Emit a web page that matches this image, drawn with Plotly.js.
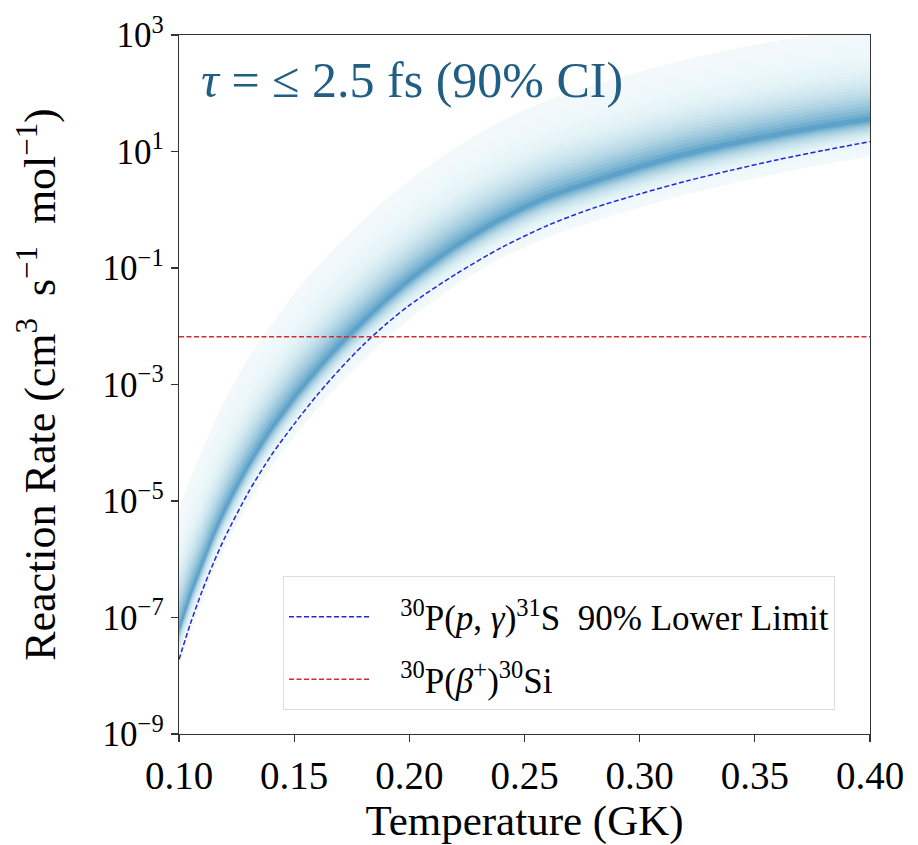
<!DOCTYPE html>
<html>
<head>
<meta charset="utf-8">
<script src="https://cdn.plot.ly/plotly-3.0.1.min.js"></script>
<style>html,body{margin:0;padding:0;background:#fff;}#chart{width:918px;height:845px;}</style>
</head>
<body>
<div id="chart"></div>
<script>
// Temperature grid (GK)
const T = [0.10, 0.105, 0.11, 0.115, 0.12, 0.13, 0.14, 0.15, 0.16, 0.17, 0.18, 0.19, 0.20,
           0.22, 0.24, 0.26, 0.28, 0.30, 0.32, 0.34, 0.36, 0.38, 0.40];
// log10 of the rates
const logLowerLimit = [-7.72, -7.10, -6.55, -6.06, -5.62, -4.86, -4.22, -3.68, -3.18, -2.73, -2.32, -1.96, -1.64,
                       -1.11, -0.65, -0.27, 0.03, 0.27, 0.49, 0.68, 0.86, 1.02, 1.17];
const logMedian     = [-7.22, -6.62, -6.10, -5.60, -5.16, -4.41, -3.78, -3.24, -2.76, -2.32, -1.93, -1.56, -1.22,
                       -0.64, -0.17, 0.20, 0.47, 0.72, 0.94, 1.12, 1.28, 1.42, 1.54];
// outer edges of the shaded probability density
const logUpperEnv   = [-5.17, -4.62, -4.15, -3.68, -3.26, -2.56, -1.98, -1.44, -0.98, -0.56, -0.18, 0.18, 0.50,
                       1.07, 1.53, 1.88, 2.14, 2.37, 2.58, 2.75, 2.90, 3.03, 3.14];
const logLowerEnv   = [-7.84, -7.24, -6.73, -6.23, -5.80, -5.06, -4.43, -3.90, -3.42, -2.98, -2.59, -2.22, -1.88,
                       -1.30, -0.83, -0.47, -0.20, 0.04, 0.26, 0.45, 0.62, 0.78, 0.92];

// 30P beta+ decay rate
const betaT = [0.10, 0.40];
const betaRate = [6.6e-3, 6.6e-3];

// ticks
const xTicks = [0.10, 0.15, 0.20, 0.25, 0.30, 0.35, 0.40];
const xTickText = ["0.10", "0.15", "0.20", "0.25", "0.30", "0.35", "0.40"];
const yTickExp = [-9, -7, -5, -3, -1, 1, 3];

const pw = a => a.map(v => Math.pow(10, v));
const serif = "Liberation Serif";

// shading style: nested bands whose summed opacity gives a smooth density look
const NB = 26;
const dark = f => 0.045 + 0.80 * Math.exp(-Math.pow(f / 0.25, 1.1));
const traces = [];
for (let k = NB; k >= 1; k--) {
  const f = k / NB;
  const fNext = (k + 1) / NB;
  const a = k === NB ? dark(f) : 1 - (1 - dark(f)) / (1 - dark(fNext));
  const lo = logMedian.map((m, i) => m - f * (m - logLowerEnv[i]));
  const up = logMedian.map((m, i) => m + f * (logUpperEnv[i] - m));
  traces.push({x: T, y: pw(lo), mode: 'lines', line: {width: 0, shape: 'spline', smoothing: 0.8},
    showlegend: false, hoverinfo: 'skip'});
  traces.push({x: T, y: pw(up), mode: 'lines', line: {width: 0, shape: 'spline', smoothing: 0.8}, fill: 'tonexty',
    fillcolor: 'rgba(45,132,190,' + a.toFixed(4) + ')', showlegend: false, hoverinfo: 'skip'});
}
traces.push({x: T, y: pw(logLowerLimit), mode: 'lines',
  name: '\u00a0\u00a0\u00a0<sup>30</sup>P(<i>p</i>, <i>γ</i>)<sup>31</sup>S\u00a0\u00a090% Lower Limit',
  line: {color: '#2424d8', width: 1.5, dash: '5px,2.5px', shape: 'spline', smoothing: 0.8}, legendgroup: 'a'});
traces.push({x: betaT, y: betaRate, mode: 'lines',
  name: '\u00a0\u00a0\u00a0<sup>30</sup>P(<i>β</i><sup>+</sup>)<sup>30</sup>Si',
  line: {color: '#d82a2a', width: 1.5, dash: '5px,2.5px'}, legendgroup: 'b'});

const layout = {
  width: 918, height: 845,
  margin: {l: 179, r: 48, t: 35, b: 111},
  paper_bgcolor: '#fff', plot_bgcolor: '#fff',
  font: {family: serif, color: '#000'},
  showlegend: true,
  xaxis: {
    type: 'linear', range: [0.10, 0.40], tickvals: xTicks, ticktext: xTickText,
    showgrid: false, zeroline: false, showline: true, mirror: true, linecolor: '#333', linewidth: 1.3,
    ticks: 'outside', ticklen: 7, tickwidth: 1.2, tickcolor: '#333', automargin: false,
    tickfont: {family: serif, size: 39, color: '#000'},
    title: {text: 'Temperature (GK)', font: {family: serif, size: 43, color: '#000'}, standoff: 14}
  },
  yaxis: {
    type: 'log', range: [-9, 3], tickvals: pw(yTickExp),
    ticktext: yTickExp.map(e => '10<sup>' + (e < 0 ? '\u2212' + (-e) : e) + '</sup>'),
    showgrid: false, zeroline: false, showline: true, mirror: true, linecolor: '#333', linewidth: 1.3,
    ticks: 'outside', ticklen: 7, tickwidth: 1.2, tickcolor: '#333', automargin: false,
    tickfont: {family: serif, size: 35, color: '#000'}
  },
  legend: {
    x: 0.1505, y: 0.226, xanchor: 'left', yanchor: 'top',
    bgcolor: 'rgba(255,255,255,0.85)', bordercolor: '#dddddd', borderwidth: 1,
    font: {family: serif, size: 35, color: '#000'},
    title: {text: ' ', font: {size: 8}},
    itemwidth: 80, traceorder: 'grouped', tracegroupgap: 14
  },
  annotations: [{
    xref: 'paper', yref: 'paper', x: 0.029, y: 0.936, xanchor: 'left', yanchor: 'middle',
    text: '<i>τ</i> = ≤ 2.5 fs (90% CI)', showarrow: false,
    font: {family: serif, size: 50, color: '#215e83'}
  }, {
    xref: 'paper', yref: 'paper', x: -0.205, y: 0.5, xanchor: 'center', yanchor: 'middle',
    textangle: -90, showarrow: false,
    text: 'Reaction Rate (cm<sup>3</sup>\u00a0 s<sup>\u22121</sup>\u00a0 mol<sup>\u22121</sup>)',
    font: {family: serif, size: 44, color: '#000'}
  }]
};

Plotly.newPlot('chart', traces, layout, {displayModeBar: false, staticPlot: true});
</script>
</body>
</html>
